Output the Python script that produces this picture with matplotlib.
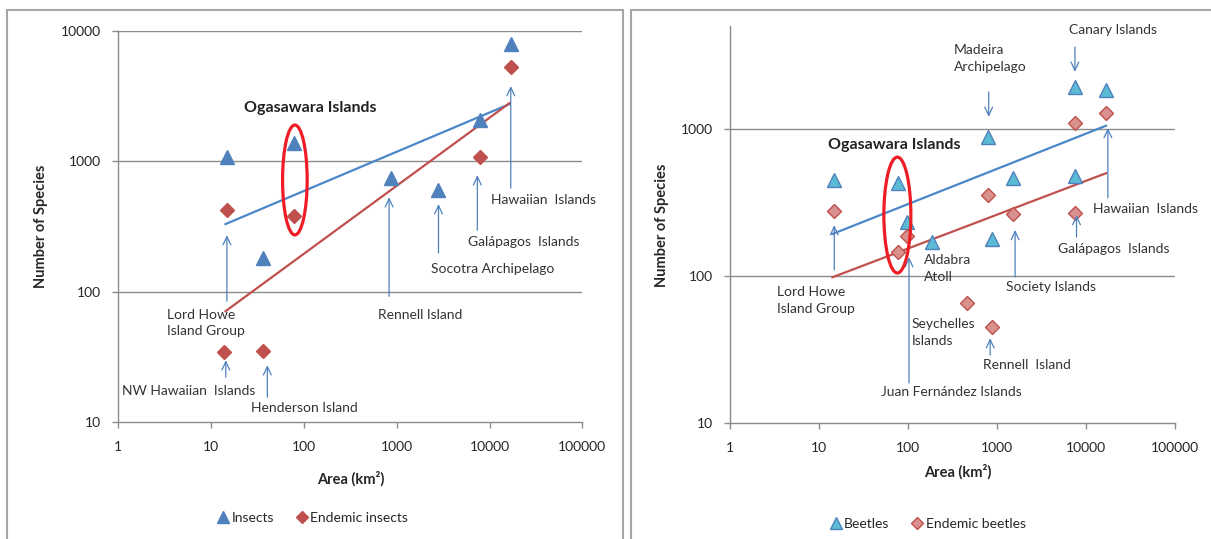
import matplotlib
matplotlib.use("Agg")
import matplotlib.pyplot as plt
from matplotlib.patches import Ellipse, Rectangle
from matplotlib.lines import Line2D

plt.rcParams['font.family'] = ['Lato', 'DejaVu Sans']

# ---------------- data (left: insects) ----------------
ins_area = [14.9, 79.6, 36.1, 871, 2767, 7840, 16950]
ins_species = [1080, 1375, 180, 740, 600, 2070, 7940]
end_ins_area = [14.9, 79.6, 13.9, 36.1, 7840, 16950]
end_ins_species = [427, 384, 34.7, 35.3, 1074, 5280]
ins_trend_x = [14.4, 16450]
ins_trend_y = [330, 2750]
end_ins_trend_x = [14.4, 16450]
end_ins_trend_y = [70.8, 2800]

# ---------------- data (right: beetles) ----------------
bee_area = [15, 77.8, 98, 188, 807, 890, 1510, 7520, 7520, 16950]
bee_species = [450, 430, 234, 171, 883, 179, 462, 1931, 479, 1842]
end_bee_area = [15, 77.8, 98, 807, 459, 890, 1510, 7520, 7520, 16950]
end_bee_species = [277, 146, 188, 356, 65.5, 45, 264, 1104, 270, 1278]
bee_trend_x = [14.3, 16950]
bee_trend_y = [193, 1052]
end_bee_trend_x = [14.3, 16950]
end_bee_trend_y = [98, 500]

x_ticks = [1, 10, 100, 1000, 10000, 100000]
x_tick_labels = ['1', '10', '100', '1000', '10000', '100000']
y_ticks_left = [10, 100, 1000, 10000]
y_tick_labels_left = ['10', '100', '1000', '10000']
y_ticks_right = [10, 100, 1000]
y_tick_labels_right = ['10', '100', '1000']

W, H = 1211, 539
fig = plt.figure(figsize=(W / 100, H / 100), dpi=100)

GRID = '#8c8c8c'
TXT = '#333333'
ARROW = '#4F81BD'


def fx(px):
    return px / W


def fy(py):
    return 1 - py / H


# panel frames
for (x0, x1) in [(7, 623), (631, 1240)]:
    fig.patches.append(Rectangle((fx(x0), fy(560)), fx(x1 - x0), (560 - 10) / H,
                                 transform=fig.transFigure, fill=False,
                                 edgecolor='#a6a6a6', lw=1.5, clip_on=False))


def setup_axes(ax, ymax, yticks, ylabels, gridvals):
    ax.set_xscale('log')
    ax.set_yscale('log')
    ax.set_xlim(1, 100000)
    ax.set_ylim(10, ymax)
    ax.set_xticks(x_ticks)
    ax.set_xticklabels(x_tick_labels)
    ax.set_yticks(yticks)
    ax.set_yticklabels(ylabels)
    ax.minorticks_off()
    for s in ['top', 'right']:
        ax.spines[s].set_visible(False)
    for s in ['left', 'bottom']:
        ax.spines[s].set_color(GRID)
        ax.spines[s].set_linewidth(1.0)
    ax.tick_params(axis='both', colors=GRID, labelcolor='#262626', labelsize=10,
                   length=4, width=1.0)
    ax.tick_params(axis='x', pad=10)
    ax.tick_params(axis='y', pad=8)
    for g in gridvals:
        ax.axhline(g, color=GRID, lw=1.0, zorder=0)
    ax.set_facecolor('none')


def arrow(ax, x, ytail, yhead):
    ax.annotate('', xy=(x, yhead), xytext=(x, ytail),
                arrowprops=dict(arrowstyle='->,head_length=0.6,head_width=0.28',
                                color=ARROW, lw=0.9, shrinkA=0, shrinkB=0))


def label(ax, x, y, s, ha='left', **kw):
    ax.text(x, y, s, ha=ha, va='center', fontsize=10, color=TXT,
            linespacing=1.45, **kw)


# ---------------- left chart ----------------
axL = fig.add_axes([fx(117.9), fy(422), fx(582.4 - 117.9), (422 - 31) / H])
setup_axes(axL, 10000, y_ticks_left, y_tick_labels_left, [100, 1000, 10000])
axL.plot(ins_trend_x, ins_trend_y, color='#4A86C8', lw=1.6, zorder=2)
axL.plot(end_ins_trend_x, end_ins_trend_y, color='#C0504D', lw=1.6, zorder=2)
axL.plot(ins_area, ins_species, ls='none', marker='^', ms=10.5,
         color='#4F81BD', mec='#4F81BD', zorder=3)
axL.plot(end_ins_area, end_ins_species, ls='none', marker='D', ms=7,
         color='#C0504D', mec='#C0504D', zorder=3)
axL.add_patch(Ellipse((0.381, 0.619), 0.053, 0.281, transform=axL.transAxes,
                      fill=False, edgecolor='#EE1C25', lw=2.3, zorder=5))
axL.text(117, 2565, 'Ogasawara Islands', ha='center', va='center',
         fontsize=11.5, fontweight='bold', color='#222222')
label(axL, 3.4, 57.3, 'Lord Howe\nIsland Group')
label(axL, 634, 66, 'Rennell Island')
label(axL, 2328, 149, 'Socotra Archipelago')
label(axL, 5875, 240, 'Galápagos  Islands')
label(axL, 10470, 501, 'Hawaiian  Islands')
label(axL, 1.10, 17.2, 'NW Hawaiian  Islands')
label(axL, 27, 12.7, 'Henderson Island')
arrow(axL, 14.9, 84.5, 272)
arrow(axL, 830, 92, 531)
arrow(axL, 2825, 198, 470)
arrow(axL, 7396, 296, 783)
arrow(axL, 16940, 624, 3784)
arrow(axL, 14.5, 22.1, 29.8)
arrow(axL, 40.6, 15.5, 27.3)

fig.text(fx(41), fy(226), 'Number of Species', rotation=90, ha='center',
         va='center', fontsize=10.5, fontweight='bold', color='#262626')
fig.text(fx(351), fy(479), 'Area (km²)', ha='center', va='center',
         fontsize=10.5, fontweight='bold', color='#262626')
hL = [Line2D([], [], ls='none', marker='^', ms=9, color='#4F81BD'),
      Line2D([], [], ls='none', marker='D', ms=6.5, color='#C0504D')]
fig.legend(hL, ['Insects', 'Endemic insects'], loc='center',
           bbox_to_anchor=(fx(313), fy(518)), ncol=2, frameon=False,
           fontsize=10, handlelength=0.8, handletextpad=0.2, columnspacing=1.6,
           labelcolor='#262626')

# ---------------- right chart ----------------
axR = fig.add_axes([fx(729.6), fy(423), fx(1174.6 - 729.6), (423 - 26.2) / H])
setup_axes(axR, 5000, y_ticks_right, y_tick_labels_right, [100, 1000])
axR.plot(bee_trend_x, bee_trend_y, color='#4A86C8', lw=1.6, zorder=2)
axR.plot(end_bee_trend_x, end_bee_trend_y, color='#C0504D', lw=1.6, zorder=2)
axR.plot(bee_area, bee_species, ls='none', marker='^', ms=10.5,
         color='#5BBAD4', mec='#4F81BD', mew=1.0, zorder=3)
axR.plot(end_bee_area, end_bee_species, ls='none', marker='D', ms=7,
         color='#D9918F', mec='#C0504D', mew=1.0, zorder=3)
axR.add_patch(Ellipse((0.377, 0.524), 0.0607, 0.292, transform=axR.transAxes,
                      fill=False, edgecolor='#EE1C25', lw=2.3, zorder=5))
axR.text(70.5, 778, 'Ogasawara Islands', ha='center', va='center',
         fontsize=11.5, fontweight='bold', color='#222222')
label(axR, 6471, 4710, 'Canary Islands')
label(axR, 330, 3020, 'Madeira\nArchipelago')
label(axR, 12100, 286, 'Hawaiian  Islands')
label(axR, 4864, 153, 'Galápagos  Islands')
label(axR, 151, 112, 'Aldabra\nAtoll')
label(axR, 1274, 84, 'Society Islands')
label(axR, 3.42, 68, 'Lord Howe\nIsland Group')
label(axR, 111, 41.3, 'Seychelles\nIslands')
label(axR, 710, 24.8, 'Rennell  Island')
label(axR, 50.2, 16.3, 'Juan Fernández Islands')
arrow(axR, 7586, 3614, 2443)
arrow(axR, 815, 1786, 1208)
arrow(axR, 17800, 340, 1016)
arrow(axR, 7907, 184, 260)
arrow(axR, 1614, 98.4, 205.6)
arrow(axR, 15, 110, 222)
arrow(axR, 847, 29, 37.8)
arrow(axR, 103.7, 18.7, 134.6)

fig.text(fx(662), fy(225), 'Number of Species', rotation=90, ha='center',
         va='center', fontsize=10.5, fontweight='bold', color='#262626')
fig.text(fx(958), fy(472), 'Area (km²)', ha='center', va='center',
         fontsize=10.5, fontweight='bold', color='#262626')
hR = [Line2D([], [], ls='none', marker='^', ms=9, color='#5BBAD4', mec='#4F81BD'),
      Line2D([], [], ls='none', marker='D', ms=6.5, color='#D9918F', mec='#C0504D')]
fig.legend(hR, ['Beetles', 'Endemic beetles'], loc='center',
           bbox_to_anchor=(fx(928), fy(524)), ncol=2, frameon=False,
           fontsize=10, handlelength=0.8, handletextpad=0.2, columnspacing=1.6,
           labelcolor='#262626')

fig.savefig('out.png', dpi=100, facecolor='white')
